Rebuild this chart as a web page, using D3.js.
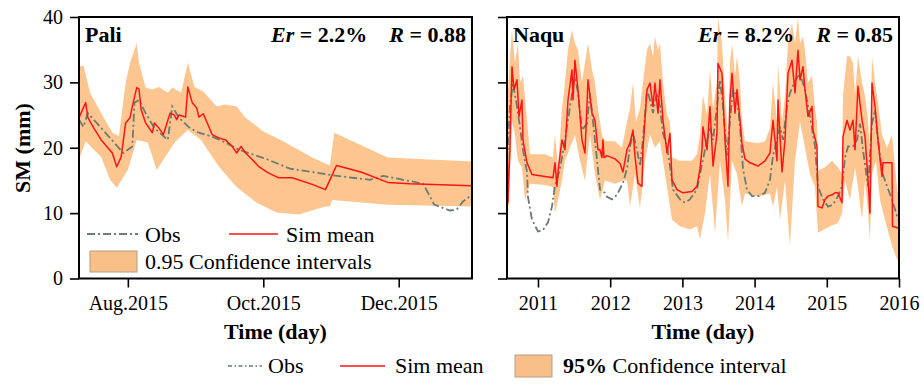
<!DOCTYPE html>
<html>
<head>
<meta charset="utf-8">
<script src="https://cdn.jsdelivr.net/npm/d3@7"></script>
<style>
  body { margin: 0; background: #fff; }
  svg { display: block; }
  text { font-family: "Liberation Serif", "Times New Roman", serif; fill: #000; }
</style>
</head>
<body>
<svg id="chart" width="924" height="384"></svg>
<script>
// ---- Pali station, Jul 2015 – Jan 2016: soil moisture (mm) as [date, value]
const paliObs = [
  ["2015-07-10",24.3],["2015-07-12",23.2],["2015-07-14",25.3],["2015-07-30",19.2],["2015-08-03",20.2],
  ["2015-08-04",26.9],["2015-08-06",27.3],["2015-08-09",25.3],["2015-08-13",23.0],["2015-08-19",21.2],
  ["2015-08-21",26.3],["2015-08-24",24.6],["2015-08-29",23.0],["2015-09-02",22.3],["2015-09-08",21.7],
  ["2015-09-14",20.8],["2015-09-20",19.7],["2015-10-03",18.2],["2015-10-13",16.8],["2015-11-01",15.8],
  ["2015-11-18",15.1],["2015-11-24",15.7],["2015-12-03",15.1],["2015-12-12",14.5],["2015-12-17",11.3],
  ["2015-12-24",10.4],["2015-12-27",10.5],["2015-12-30",11.8],["2016-01-03",12.8]
];
const paliMean = [
  ["2015-07-10",24.6],["2015-07-13",26.9],["2015-07-14",24.6],["2015-07-17",22.8],["2015-07-20",21.2],
  ["2015-07-23",20.0],["2015-07-25",19.2],["2015-07-27",17.1],["2015-07-29",18.6],["2015-07-31",23.8],
  ["2015-08-02",24.6],["2015-08-03",26.3],["2015-08-05",29.2],["2015-08-06",29.0],["2015-08-07",25.8],
  ["2015-08-09",23.8],["2015-08-12",22.3],["2015-08-13",23.8],["2015-08-15",23.0],["2015-08-17",22.0],
  ["2015-08-20",25.3],["2015-08-22",25.0],["2015-08-23",24.3],["2015-08-24",25.0],["2015-08-27",24.7],
  ["2015-08-28",29.3],["2015-08-30",26.9],["2015-09-01",26.1],["2015-09-02",24.7],["2015-09-04",25.2],
  ["2015-09-08",22.0],["2015-09-11",21.5],["2015-09-14",21.2],["2015-09-17",20.2],["2015-09-19",19.2],
  ["2015-09-21",20.2],["2015-09-23",19.2],["2015-09-26",18.2],["2015-09-29",17.1],["2015-10-03",16.2],
  ["2015-10-08",15.4],["2015-10-14",15.4],["2015-10-23",14.4],["2015-10-29",13.6],["2015-11-03",17.3],
  ["2015-11-14",16.3],["2015-11-26",14.7],["2015-12-06",14.5],["2016-01-03",14.2]
];
const paliUpper = [
  ["2015-07-10",32.4],["2015-07-12",32.6],["2015-07-15",28.4],["2015-07-20",25.3],["2015-07-25",22.3],
  ["2015-07-28",21.8],["2015-07-31",29.9],["2015-08-02",33.0],["2015-08-05",36.0],["2015-08-06",33.0],
  ["2015-08-09",29.2],["2015-08-12",28.9],["2015-08-15",29.3],["2015-08-19",28.4],["2015-08-21",29.2],
  ["2015-08-25",28.4],["2015-08-28",33.0],["2015-08-31",29.3],["2015-09-04",28.6],["2015-09-10",26.3],
  ["2015-09-14",26.6],["2015-09-19",26.3],["2015-09-23",24.6],["2015-10-01",22.5],["2015-10-10",21.0],
  ["2015-10-23",18.5],["2015-10-31",17.3],["2015-11-02",22.3],["2015-11-26",18.5],["2016-01-03",17.9]
];
const paliLower = [
  ["2015-07-10",18.2],["2015-07-13",21.0],["2015-07-20",18.6],["2015-07-24",15.1],["2015-07-27",13.9],
  ["2015-08-01",16.6],["2015-08-05",21.2],["2015-08-10",20.8],["2015-08-14",16.6],["2015-08-19",19.2],
  ["2015-08-22",20.8],["2015-08-28",22.7],["2015-09-03",21.2],["2015-09-11",17.1],["2015-09-19",14.0],
  ["2015-09-28",11.6],["2015-10-07",10.1],["2015-10-17",9.8],["2015-10-29",11.0],["2015-10-31",11.0],
  ["2015-11-01",12.0],["2015-11-26",11.3],["2016-01-03",11.0]
];

// ---- Naqu station, 2010–2015: soil moisture (mm) as [decimal year, value]
const naquObs = [
  [2010.571,18.0],[2010.612,26.3],[2010.654,29.9],[2010.709,26.3],[2010.751,23.2],[2010.792,19.7],
  [2010.848,16.3],[2010.861,12.5],[2010.917,9.0],[2011.000,7.2],[2011.069,7.4],[2011.139,8.6],
  [2011.194,11.0],[2011.235,14.1],[2011.305,16.8],[2011.374,21.2],[2011.443,26.3],[2011.512,30.9],
  [2011.554,28.4],[2011.609,22.7],[2011.679,23.7],[2011.720,28.4],[2011.789,21.2],[2011.859,13.6],
  [2011.928,13.1],[2011.956,12.5],[2012.025,12.1],[2012.094,12.8],[2012.177,14.6],[2012.233,16.8],
  [2012.274,20.2],[2012.316,22.2],[2012.371,19.7],[2012.413,17.2],[2012.454,21.2],[2012.510,28.9],
  [2012.551,27.3],[2012.593,25.3],[2012.648,28.4],[2012.690,26.3],[2012.731,22.2],[2012.787,20.2],
  [2012.828,17.2],[2012.870,13.6],[2012.967,12.1],[2013.036,11.6],[2013.105,12.1],[2013.202,13.6],
  [2013.244,16.0],[2013.313,19.7],[2013.382,23.2],[2013.424,21.2],[2013.479,26.3],[2013.521,30.4],
  [2013.562,26.3],[2013.618,18.8],[2013.659,24.2],[2013.701,28.9],[2013.756,27.8],[2013.798,23.2],
  [2013.839,16.8],[2013.895,13.6],[2013.964,12.6],[2014.047,12.6],[2014.144,13.1],[2014.213,15.1],
  [2014.255,18.8],[2014.310,21.2],[2014.352,23.2],[2014.393,21.2],[2014.449,26.3],[2014.490,28.4],
  [2014.560,30.2],[2014.629,31.4],[2014.698,28.9],[2014.767,24.8],[2014.837,20.2],[2014.878,14.1],
  [2014.947,12.1],[2015.017,11.0],[2015.086,11.3],[2015.155,12.6],[2015.211,14.1],[2015.252,18.5],
  [2015.294,20.2],[2015.363,20.2],[2015.418,21.2],[2015.460,23.7],[2015.501,19.7],[2015.571,14.1],
  [2015.626,23.7],[2015.668,25.8],[2015.709,21.2],[2015.765,16.3],[2015.834,14.1],[2015.903,12.1],
  [2015.972,9.6],[2016.000,8.8]
];
const naquMean = [
  [2010.571,22.3],[2010.584,11.6],[2010.612,20.0],[2010.640,32.4],[2010.668,28.9],[2010.709,30.4],
  [2010.737,24.8],[2010.778,27.3],[2010.792,21.2],[2010.848,17.7],[2010.917,15.9],[2011.097,15.6],
  [2011.208,15.4],[2011.235,17.7],[2011.263,14.1],[2011.277,16.3],[2011.332,21.2],[2011.374,19.7],
  [2011.416,27.3],[2011.471,31.9],[2011.485,27.3],[2011.512,33.4],[2011.554,28.9],[2011.609,21.2],
  [2011.651,19.2],[2011.693,30.4],[2011.748,25.3],[2011.789,24.2],[2011.831,19.7],[2011.859,19.7],
  [2011.886,18.5],[2011.900,21.2],[2011.914,18.5],[2011.956,18.8],[2012.066,18.3],[2012.136,17.6],
  [2012.177,16.3],[2012.233,19.7],[2012.274,20.7],[2012.316,22.7],[2012.343,18.8],[2012.385,14.6],
  [2012.440,14.1],[2012.454,19.7],[2012.510,28.9],[2012.551,29.9],[2012.593,26.3],[2012.620,29.9],
  [2012.662,25.3],[2012.690,30.4],[2012.731,24.2],[2012.787,19.2],[2012.828,22.2],[2012.856,15.1],
  [2012.925,13.6],[2013.008,13.1],[2013.133,13.3],[2013.202,14.1],[2013.244,16.8],[2013.271,19.7],
  [2013.285,23.2],[2013.341,19.7],[2013.382,26.3],[2013.424,17.2],[2013.479,22.2],[2013.493,32.9],
  [2013.548,31.4],[2013.590,21.2],[2013.632,14.1],[2013.659,27.3],[2013.687,31.4],[2013.729,25.3],
  [2013.756,28.9],[2013.798,24.2],[2013.825,20.7],[2013.867,18.3],[2013.936,17.7],[2014.047,17.2],
  [2014.144,18.0],[2014.213,19.2],[2014.255,24.2],[2014.310,18.0],[2014.324,27.3],[2014.380,16.3],
  [2014.421,21.2],[2014.463,31.4],[2014.518,33.4],[2014.560,28.4],[2014.601,34.9],[2014.629,30.4],
  [2014.670,32.4],[2014.698,28.9],[2014.740,24.8],[2014.795,26.3],[2014.809,22.7],[2014.864,20.2],
  [2014.878,11.0],[2014.934,10.8],[2014.975,12.1],[2015.017,12.6],[2015.072,12.8],[2015.114,13.1],
  [2015.155,13.1],[2015.211,11.6],[2015.224,21.7],[2015.280,24.2],[2015.321,22.7],[2015.363,24.2],
  [2015.391,19.7],[2015.432,29.4],[2015.488,24.2],[2015.529,21.7],[2015.571,15.1],[2015.598,10.0],
  [2015.626,29.9],[2015.668,26.3],[2015.709,21.2],[2015.765,15.6],[2015.778,17.7],[2015.903,17.7],
  [2015.910,8.0],[2016.000,7.7]
];
const naquUpper = [
  [2010.571,26],[2010.612,34],[2010.640,38],[2010.681,33],[2010.723,36],[2010.751,30],[2010.792,31],
  [2010.834,26],[2010.889,19],[2011.097,19],[2011.208,18.5],[2011.235,22],[2011.277,17],[2011.332,26],
  [2011.374,30],[2011.416,35],[2011.471,38],[2011.512,36],[2011.554,35],[2011.609,30],[2011.651,33],
  [2011.693,36],[2011.748,32],[2011.789,30],[2011.831,26],[2011.886,22],[2011.928,21],[2012.066,21],
  [2012.163,20],[2012.233,24],[2012.274,26],[2012.316,30],[2012.357,24],[2012.413,26],[2012.454,30],
  [2012.510,35],[2012.551,36],[2012.593,34],[2012.620,37],[2012.662,35],[2012.690,36],[2012.731,30],
  [2012.787,25],[2012.828,24],[2012.856,18.5],[2012.967,18],[2013.133,18],[2013.202,19],[2013.244,22],
  [2013.285,28],[2013.341,25],[2013.382,32],[2013.424,26],[2013.479,30],[2013.493,40],[2013.548,36],
  [2013.590,28],[2013.632,22],[2013.659,33],[2013.687,36],[2013.729,31],[2013.756,34],[2013.798,30],
  [2013.825,24],[2013.867,21],[2014.047,20.7],[2014.144,21],[2014.213,23],[2014.255,30],[2014.310,24],
  [2014.324,33],[2014.380,24],[2014.421,28],[2014.463,36],[2014.518,39],[2014.560,36],[2014.601,40],
  [2014.629,36],[2014.670,37],[2014.698,35],[2014.740,30],[2014.795,31],[2014.837,26],[2014.864,24],
  [2014.878,16.5],[2014.975,17],[2015.072,18],[2015.155,17],[2015.211,16],[2015.224,28],[2015.280,34],
  [2015.321,34],[2015.363,33],[2015.391,28],[2015.432,34],[2015.488,30],[2015.529,28],[2015.571,24],
  [2015.598,20],[2015.626,34],[2015.668,30],[2015.709,27],[2015.765,22],[2015.834,20],[2015.903,22],
  [2015.972,14],[2016.000,12]
];
const naquLower = [
  [2010.571,6],[2010.612,16],[2010.640,24],[2010.681,22],[2010.723,18],[2010.778,17],[2010.820,12],
  [2010.889,14.5],[2011.097,14.3],[2011.208,14],[2011.235,10],[2011.277,12],[2011.332,15],[2011.374,18],
  [2011.443,20],[2011.512,22],[2011.582,18],[2011.651,15],[2011.720,22],[2011.789,16],[2011.859,12],
  [2011.928,15],[2012.066,14.5],[2012.177,15],[2012.233,15],[2012.274,11],[2012.343,16],[2012.413,10.7],
  [2012.482,18],[2012.551,22],[2012.620,20],[2012.690,21],[2012.759,16],[2012.828,11],[2012.856,9],
  [2012.967,8],[2013.105,7.5],[2013.202,8],[2013.244,6],[2013.313,10],[2013.382,16],[2013.452,7],
  [2013.521,18],[2013.590,12],[2013.632,5.5],[2013.687,18],[2013.756,16],[2013.825,11],[2013.867,13],
  [2014.047,12.5],[2014.213,13],[2014.255,11],[2014.310,14],[2014.352,9],[2014.421,15],[2014.490,5],
  [2014.560,18],[2014.629,24],[2014.698,20],[2014.767,16],[2014.837,14],[2014.878,7],[2015.044,8],
  [2015.155,8.5],[2015.211,10],[2015.252,15],[2015.321,12],[2015.391,17],[2015.432,14],[2015.488,9],
  [2015.529,15],[2015.571,10],[2015.598,6],[2015.626,16],[2015.681,18],[2015.737,12],[2015.806,9],
  [2015.903,5],[2015.972,3],[2016.000,2.5]
];

// ---- axis ticks
const yTicks = [0, 10, 20, 30, 40];
const paliTicks = ["2015-08-01", "2015-10-01", "2015-12-01"];
const naquTicks = [2011, 2012, 2013, 2014, 2015, 2016];

// ---- panel statistics
const paliStats = { name: "Pali", er: "2.2%", r: "0.88" };
const naquStats = { name: "Naqu", er: "8.2%", r: "0.85" };

const BAND = "#fdc590", RED = "#ff1414", OBS = "#6c7a70";
const OBS_DASH = "8,3,2,3";

const svg = d3.select("#chart");
const parse = d3.timeParse("%Y-%m-%d");
const plotTop = 17, plotBottom = 278.5;

const y = d3.scaleLinear().domain([0, 40]).range([plotBottom, plotTop]);

function panel(opts) {
  const { x, obs, mean, upper, lower, stats, left, right, id, tickFmt, ticks, yLabels } = opts;
  const g = svg.append("g");

  g.append("clipPath").attr("id", id).append("rect")
    .attr("x", left).attr("y", plotTop).attr("width", right - left).attr("height", plotBottom - plotTop);

  const plot = g.append("g").attr("clip-path", `url(#${id})`);

  // confidence band as a closed polygon: upper edge forward, lower edge back
  const ring = upper.concat(lower.slice().reverse());
  const bandLine = d3.line().x(d => x(d[0])).y(d => y(d[1]));
  plot.append("path").attr("d", bandLine(ring) + "Z")
    .attr("fill", BAND).attr("stroke", "none");

  const line = d3.line().x(d => x(d[0])).y(d => y(d[1]));
  plot.append("path").attr("d", line(obs)).attr("fill", "none")
    .attr("stroke", OBS).attr("stroke-width", 1.8).attr("stroke-dasharray", OBS_DASH);
  plot.append("path").attr("d", line(mean)).attr("fill", "none")
    .attr("stroke", RED).attr("stroke-width", 1.5).attr("stroke-linejoin", "round");

  // y axis
  const ya = g.append("g").attr("transform", `translate(${left},0)`)
    .call(d3.axisLeft(y).tickValues(yTicks).tickSize(9).tickPadding(7)
      .tickFormat(yLabels ? d3.format("d") : ""));
  ya.select(".domain").remove();
  ya.selectAll("line").attr("stroke", "#000").attr("stroke-width", 1.6);
  ya.selectAll("text").attr("font-size", 20).attr("font-family", "Liberation Serif, serif");

  // x axis
  const xa = g.append("g").attr("transform", `translate(0,${plotBottom})`)
    .call(d3.axisBottom(x).tickValues(ticks).tickSize(9).tickPadding(8).tickFormat(tickFmt));
  xa.select(".domain").remove();
  xa.selectAll("line").attr("stroke", "#000").attr("stroke-width", 1.6);
  xa.selectAll("text").attr("font-size", 20).attr("font-family", "Liberation Serif, serif");

  // frame
  g.append("rect").attr("x", left).attr("y", plotTop)
    .attr("width", right - left).attr("height", plotBottom - plotTop)
    .attr("fill", "none").attr("stroke", "#000").attr("stroke-width", 2);

  // titles
  g.append("text").attr("x", left + 6).attr("y", 42)
    .attr("font-size", 22).attr("font-weight", "bold").text(stats.name);
  const st = g.append("text").attr("x", right - 6).attr("y", 42)
    .attr("text-anchor", "end").attr("font-size", 22).attr("font-weight", "bold");
  st.append("tspan").attr("font-style", "italic").text("Er");
  st.append("tspan").text(` = ${stats.er}`);
  st.append("tspan").attr("font-style", "italic").attr("dx", 22).text("R");
  st.append("tspan").text(` = ${stats.r}`);

  g.append("text").attr("x", (left + right) / 2).attr("y", 339)
    .attr("text-anchor", "middle").attr("font-size", 22).attr("font-weight", "bold")
    .text("Time (day)");
}

const xPali = d3.scaleTime()
  .domain([parse("2015-07-10"), parse("2016-01-03")]).range([79, 472]);
const xNaqu = d3.scaleLinear().domain([2010.571, 2016.0]).range([507, 899]);

const asDate = arr => arr.map(d => [parse(d[0]), d[1]]);

panel({
  id: "clip-pali", x: xPali, left: 79, right: 472, stats: paliStats, yLabels: true,
  obs: asDate(paliObs), mean: asDate(paliMean), upper: asDate(paliUpper), lower: asDate(paliLower),
  ticks: paliTicks.map(parse), tickFmt: d3.timeFormat("%b.%Y")
});
panel({
  id: "clip-naqu", x: xNaqu, left: 507, right: 899, stats: naquStats, yLabels: false,
  obs: naquObs, mean: naquMean, upper: naquUpper, lower: naquLower,
  ticks: naquTicks, tickFmt: d3.format("d")
});

// y axis title
svg.append("text").attr("transform", "translate(30,148) rotate(-90)")
  .attr("text-anchor", "middle").attr("font-size", 22).attr("font-weight", "bold")
  .text("SM (mm)");

// legend helpers
function legendLine(g, x1, x2, yy, color, dash, w) {
  g.append("line").attr("x1", x1).attr("x2", x2).attr("y1", yy).attr("y2", yy)
    .attr("stroke", color).attr("stroke-width", w).attr("stroke-dasharray", dash || null);
}
function legendText(g, xx, yy, txt) {
  return g.append("text").attr("x", xx).attr("y", yy).attr("font-size", 22).text(txt);
}

// legend inside the Pali panel
const lg = svg.append("g");
legendLine(lg, 87, 138, 234, OBS, OBS_DASH, 1.8);
legendText(lg, 145, 241.5, "Obs");
legendLine(lg, 229, 278, 234, RED, null, 1.6);
legendText(lg, 286, 241.5, "Sim mean");
lg.append("rect").attr("x", 90).attr("y", 251).attr("width", 47).attr("height", 21)
  .attr("fill", "#f8c088").attr("stroke", "#b59c86").attr("stroke-width", 1);
legendText(lg, 145, 269, "0.95 Confidence intervals");

// shared legend below both panels
const bg = svg.append("g");
legendLine(bg, 228, 262, 366, OBS, "4,2.5,1.5,2.5", 1.6);
legendText(bg, 268, 373, "Obs");
legendLine(bg, 340, 385, 366, RED, null, 1.6);
legendText(bg, 395, 373, "Sim mean");
bg.append("rect").attr("x", 515).attr("y", 355).attr("width", 37).attr("height", 22)
  .attr("fill", "#f8c088").attr("stroke", "#b59c86").attr("stroke-width", 1);
const ci = legendText(bg, 563, 373, "");
ci.append("tspan").attr("font-weight", "bold").text("95%");
ci.append("tspan").text(" Confidence interval");
</script>
</body>
</html>
